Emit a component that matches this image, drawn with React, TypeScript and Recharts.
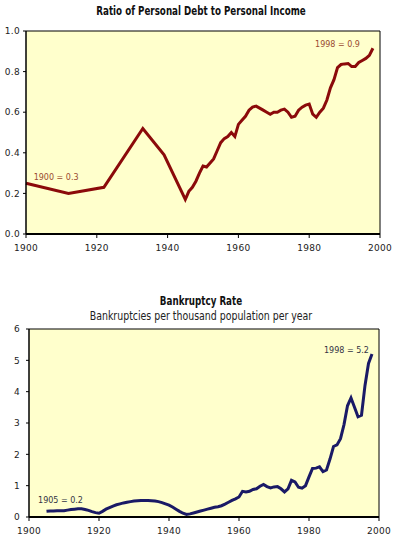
import { LineChart, Line, XAxis, YAxis, CartesianGrid, ReferenceLine, ReferenceDot } from "recharts";

const debtYears = [
  1900, 1912, 1922, 1933, 1939, 1945, 1946, 1947, 1948, 1949, 1950, 1951, 1952, 1953, 1954, 1955,
  1956, 1957, 1958, 1959, 1960, 1961, 1962, 1963, 1964, 1965, 1966, 1967, 1968, 1969, 1970, 1971,
  1972, 1973, 1974, 1975, 1976, 1977, 1978, 1979, 1980, 1981, 1982, 1983, 1984, 1985, 1986, 1987,
  1988, 1989, 1990, 1991, 1992, 1993, 1994, 1995, 1996, 1997, 1998,
];
const debtRatio = [
  0.25, 0.2, 0.23, 0.52, 0.39, 0.17, 0.21, 0.23, 0.26, 0.3, 0.335, 0.33, 0.35, 0.37, 0.41, 0.45,
  0.47, 0.48, 0.5, 0.48, 0.54, 0.56, 0.58, 0.61, 0.625, 0.63, 0.62, 0.61, 0.6, 0.59, 0.6, 0.6,
  0.61, 0.615, 0.6, 0.575, 0.58, 0.61, 0.625, 0.635, 0.64, 0.59, 0.575, 0.6, 0.62, 0.66, 0.72, 0.76,
  0.82, 0.835, 0.838, 0.84, 0.825, 0.825, 0.845, 0.855, 0.865, 0.88, 0.915,
];

const bankYears = Array.from({ length: 94 }, (_, i) => 1905 + i);
const bankRate = [
  0.18, 0.19, 0.19, 0.2, 0.2, 0.2, 0.22, 0.24, 0.25, 0.26, 0.26, 0.24, 0.21, 0.17, 0.14,
  0.12, 0.18, 0.25, 0.3, 0.35, 0.39, 0.42, 0.45, 0.47, 0.49, 0.51, 0.52, 0.53, 0.53, 0.53,
  0.52, 0.51, 0.49, 0.46, 0.42, 0.38, 0.32, 0.25, 0.18, 0.12, 0.08, 0.1, 0.13, 0.16, 0.19,
  0.22, 0.25, 0.28, 0.31, 0.33, 0.36, 0.41, 0.47, 0.53, 0.58, 0.64, 0.82, 0.8, 0.82, 0.88,
  0.9, 0.98, 1.04, 0.97, 0.93, 0.96, 0.97, 0.9, 0.8, 0.9, 1.17, 1.12, 0.95, 0.92, 1.0,
  1.28, 1.55, 1.56, 1.6, 1.45, 1.5, 1.85, 2.25, 2.3, 2.5, 2.95, 3.55, 3.8, 3.5, 3.2,
  3.25, 4.2, 4.9, 5.2,
];

const xTicks = [1900, 1920, 1940, 1960, 1980, 2000];
const debtTicks = [0, 0.2, 0.4, 0.6, 0.8, 1.0];
const bankTicks = [0, 1, 2, 3, 4, 5, 6];

const debtData = debtYears.map((year, i) => ({ year, value: debtRatio[i] }));
const bankData = bankYears.map((year, i) => ({ year, value: bankRate[i] }));

const tickStyle = { fontSize: 9, fill: "#222", fontFamily: "DejaVu Sans", letterSpacing: 0.3 };
const noteStyle = { fontSize: 8, fontFamily: "DejaVu Sans" };
const bg = "#ffffcc";
const narrow = "'Liberation Sans Narrow', 'DejaVu Sans Condensed', sans-serif";

// headings are squeezed horizontally, no true narrow font here
function Heading({ top, text, bold, squeeze }: { top: number; text: string; bold?: boolean; squeeze: number }) {
  return (
    <div
      style={{
        position: "absolute", top, left: 0, width: 402, textAlign: "center",
        fontFamily: narrow, fontWeight: bold ? "bold" : "normal", fontSize: 12,
        color: bold ? "#111" : "#222", transform: `scaleX(${squeeze})`, transformOrigin: "201px 0",
        whiteSpace: "nowrap",
      }}
    >
      {text}
    </div>
  );
}

export default function App() {
  return (
    <div style={{ position: "absolute", left: 0, top: 0, width: 397, height: 546, background: "#fff" }}>
      <Heading top={4} text="Ratio of Personal Debt to Personal Income" bold squeeze={0.81} />
      <div style={{ position: "absolute", top: 0, left: 0 }}>
        <LineChart width={397} height={260} data={debtData} margin={{ top: 31, right: 17, left: 0, bottom: 6 }}>
          <CartesianGrid fill={bg} horizontal={false} vertical={false} />
          <XAxis
            dataKey="year" type="number" domain={[1900, 2000]} ticks={xTicks}
            tick={tickStyle} tickSize={4} tickMargin={7} height={20}
            axisLine={{ stroke: "#000", strokeWidth: 2 }} tickLine={{ stroke: "#000" }}
          />
          <YAxis
            type="number" domain={[0, 1]} ticks={debtTicks} width={26}
            tickFormatter={(v: number) => v.toFixed(1)}
            tick={tickStyle} tickSize={3} tickMargin={3}
            axisLine={{ stroke: "#000", strokeWidth: 1.5 }} tickLine={{ stroke: "#000" }}
          />
          <ReferenceLine y={1} stroke="#000" strokeWidth={1} />
          <ReferenceLine x={2000} stroke="#000" strokeWidth={1} />
          <ReferenceDot
            x={1908.5} y={0.28} r={0} fill="none" stroke="none"
            label={{ value: "1900 = 0.3", position: "center", style: { ...noteStyle, fill: "#9a4a30" } }}
          />
          <ReferenceDot
            x={1988} y={0.935} r={0} fill="none" stroke="none"
            label={{ value: "1998 = 0.9", position: "center", style: { ...noteStyle, fill: "#9a4a30" } }}
          />
          <Line
            type="linear" dataKey="value" stroke="#8b0a0a" strokeWidth={3}
            dot={false} isAnimationActive={false}
          />
        </LineChart>
      </div>

      <Heading top={294} text="Bankruptcy Rate" bold squeeze={0.81} />
      <Heading top={309} text="Bankruptcies per thousand population per year" squeeze={0.87} />
      <div style={{ position: "absolute", top: 320, left: 0 }}>
        <LineChart width={397} height={226} data={bankData} margin={{ top: 9, right: 18, left: 0, bottom: 9 }}>
          <CartesianGrid fill={bg} horizontal={false} vertical={false} />
          <XAxis
            dataKey="year" type="number" domain={[1900, 2000]} ticks={xTicks}
            tick={tickStyle} tickSize={4} tickMargin={7} height={20}
            axisLine={{ stroke: "#000", strokeWidth: 2 }} tickLine={{ stroke: "#000" }}
          />
          <YAxis
            type="number" domain={[0, 6]} ticks={bankTicks} width={29}
            tick={tickStyle} tickSize={3} tickMargin={6}
            axisLine={{ stroke: "#000", strokeWidth: 1.5 }} tickLine={{ stroke: "#000" }}
          />
          <ReferenceLine y={6} stroke="#000" strokeWidth={1} />
          <ReferenceLine x={2000} stroke="#000" strokeWidth={1} />
          <ReferenceDot
            x={1909} y={0.55} r={0} fill="none" stroke="none"
            label={{ value: "1905 = 0.2", position: "center", style: { ...noteStyle, fill: "#333344" } }}
          />
          <ReferenceDot
            x={1990.7} y={5.31} r={0} fill="none" stroke="none"
            label={{ value: "1998 = 5.2", position: "center", style: { ...noteStyle, fill: "#333344" } }}
          />
          <Line
            type="linear" dataKey="value" stroke="#1a1a66" strokeWidth={3}
            dot={false} isAnimationActive={false}
          />
        </LineChart>
      </div>
    </div>
  );
}
